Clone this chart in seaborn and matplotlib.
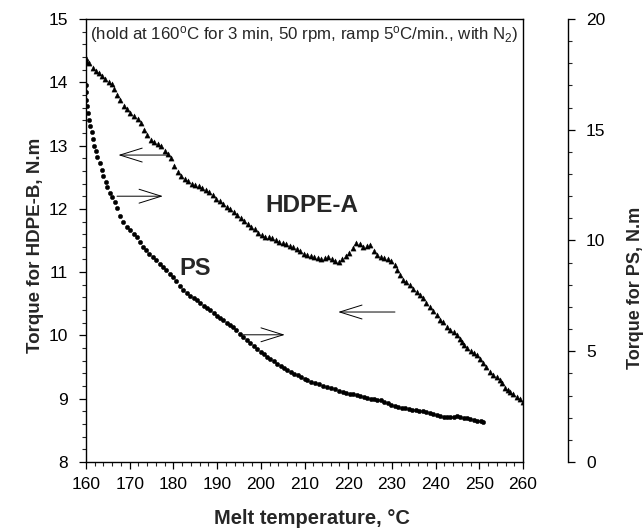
import matplotlib
matplotlib.use("Agg")
import matplotlib.pyplot as plt
from matplotlib.ticker import MultipleLocator
import seaborn as sns
import pandas as pd

# %%
# HDPE-A (triangles, left axis)
hdpe_temp = [160.0, 160.3, 160.8, 161.6, 162.3, 162.9, 163.6, 164.4, 165.2, 165.9,
             166.5, 167.2, 167.8, 168.6, 169.3, 170.1, 171.0, 171.8, 172.6, 173.3,
             174.0, 174.8, 175.6, 176.4, 177.2, 178.0, 178.7, 179.4, 180.2, 181.0,
             181.8, 182.6, 183.4, 184.2, 185.0, 185.8, 186.6, 187.4, 188.2, 189.0,
             189.8, 190.6, 191.4, 192.2, 193.0, 193.8, 194.6, 195.4, 196.2, 197.0,
             197.8, 198.6, 199.4, 200.2, 201.0, 201.8, 202.6, 203.4, 204.2, 205.0,
             205.8, 206.6, 207.4, 208.2, 209.0, 209.8, 210.6, 211.4, 212.2, 213.0,
             213.8, 214.6, 215.4, 216.2, 217.0, 217.8, 218.6, 219.4, 220.2, 221.0,
             221.8, 222.6, 223.4, 224.2, 225.0, 225.8, 226.6, 227.4, 228.2, 229.0,
             229.8, 230.6, 231.2, 231.9, 232.5, 233.3, 234.1, 234.9, 235.7, 236.4,
             237.1, 237.9, 238.7, 239.5, 240.3, 241.0, 241.7, 242.6, 243.4, 244.2,
             244.9, 245.5, 246.0, 246.6, 247.2, 248.0, 248.8, 249.5, 250.2, 250.8,
             251.6, 252.4, 253.2, 254.1, 254.7, 255.2, 255.9, 256.5, 257.0, 257.8,
             258.6, 259.3, 260.0]
hdpe_torque = [14.38, 14.32, 14.30, 14.23, 14.18, 14.14, 14.10, 14.05, 14.00, 13.98,
               13.90, 13.80, 13.72, 13.62, 13.57, 13.51, 13.47, 13.42, 13.36, 13.25,
               13.17, 13.09, 13.05, 13.02, 12.99, 12.92, 12.87, 12.80, 12.68, 12.58,
               12.52, 12.47, 12.44, 12.40, 12.38, 12.36, 12.33, 12.30, 12.27, 12.22,
               12.16, 12.12, 12.07, 12.03, 12.00, 11.95, 11.90, 11.86, 11.81, 11.76,
               11.72, 11.68, 11.62, 11.58, 11.56, 11.55, 11.54, 11.51, 11.48, 11.46,
               11.44, 11.42, 11.40, 11.37, 11.33, 11.29, 11.27, 11.25, 11.24, 11.23,
               11.21, 11.22, 11.24, 11.20, 11.17, 11.16, 11.20, 11.25, 11.31, 11.38,
               11.46, 11.44, 11.40, 11.41, 11.43, 11.33, 11.27, 11.24, 11.22, 11.20,
               11.17, 11.12, 11.03, 10.96, 10.88, 10.84, 10.80, 10.74, 10.69, 10.64,
               10.59, 10.52, 10.45, 10.38, 10.32, 10.24, 10.21, 10.13, 10.09, 10.05,
               10.01, 9.95, 9.90, 9.85, 9.80, 9.76, 9.72, 9.69, 9.62, 9.57,
               9.50, 9.42, 9.38, 9.34, 9.29, 9.25, 9.17, 9.13, 9.11, 9.07,
               9.03, 8.99, 8.95]

# PS (circles, right axis)
ps_temp = [159.9, 160.0, 160.1, 160.2, 160.5, 160.7, 160.9, 161.4, 161.6, 161.8,
           162.3, 162.6, 163.2, 163.6, 163.9, 164.5, 164.8, 165.4, 166.0, 166.6,
           167.2, 167.8, 168.5, 169.3, 170.1, 170.9, 171.7, 172.4, 173.0, 173.8,
           174.5, 175.3, 176.1, 176.9, 177.6, 178.4, 179.2, 179.9, 180.7, 181.5,
           182.2, 183.0, 183.8, 184.6, 185.4, 186.2, 187.0, 187.7, 188.4, 189.2,
           190.0, 190.7, 191.4, 192.2, 193.0, 193.6, 194.4, 195.2, 196.0, 196.8,
           197.6, 198.4, 199.2, 200.0, 200.7, 201.4, 202.2, 203.0, 203.8, 204.6,
           205.3, 206.0, 206.8, 207.6, 208.4, 209.2, 210.0, 210.6, 211.5, 212.4,
           213.3, 214.2, 215.1, 216.0, 216.9, 217.8, 218.8, 219.6, 220.4, 221.2,
           222.0, 222.8, 223.6, 224.4, 225.2, 226.0, 226.7, 227.5, 228.3, 229.1,
           229.9, 230.7, 231.4, 232.2, 233.0, 233.8, 234.6, 235.5, 236.3, 237.1,
           237.9, 238.7, 239.5, 240.3, 241.1, 241.9, 242.6, 243.4, 244.1, 244.9,
           245.6, 246.4, 247.2, 247.9, 248.7, 249.5, 250.3, 250.9]
ps_torque = [17.02, 16.70, 16.35, 16.05, 15.76, 15.45, 15.15, 14.90, 14.60, 14.25,
             14.05, 13.75, 13.50, 13.20, 12.90, 12.65, 12.42, 12.15, 11.95, 11.74,
             11.45, 11.11, 10.85, 10.62, 10.47, 10.30, 10.16, 9.92, 9.71, 9.55,
             9.40, 9.26, 9.10, 8.95, 8.80, 8.65, 8.50, 8.35, 8.15, 7.96,
             7.77, 7.63, 7.50, 7.40, 7.31, 7.18, 7.05, 6.95, 6.86, 6.72,
             6.58, 6.48, 6.41, 6.28, 6.17, 6.09, 5.95, 5.80, 5.65, 5.51,
             5.38, 5.25, 5.12, 4.98, 4.86, 4.74, 4.64, 4.54, 4.44, 4.34,
             4.24, 4.15, 4.07, 3.99, 3.91, 3.84, 3.76, 3.70, 3.63, 3.57,
             3.50, 3.44, 3.39, 3.34, 3.29, 3.22, 3.16, 3.12, 3.09, 3.05,
             3.02, 2.98, 2.93, 2.89, 2.85, 2.83, 2.81, 2.79, 2.72, 2.65,
             2.58, 2.52, 2.48, 2.45, 2.43, 2.40, 2.37, 2.35, 2.32, 2.28,
             2.24, 2.21, 2.17, 2.13, 2.09, 2.05, 2.03, 2.01, 2.05, 2.08,
             2.04, 2.00, 1.97, 1.94, 1.91, 1.87, 1.84, 1.81]

note = "(hold at 160$^\\mathregular{o}$C for 3 min, 50 rpm, ramp 5$^\\mathregular{o}$C/min., with N$_\\mathregular{2}$)"

# %%
sns.set_style("ticks")
plt.rcParams['font.family'] = ['Liberation Sans', 'DejaVu Sans']
plt.rcParams['mathtext.fontset'] = 'custom'
plt.rcParams['mathtext.rm'] = 'Liberation Sans'
plt.rcParams['mathtext.it'] = 'Liberation Sans:italic'
plt.rcParams['mathtext.bf'] = 'Liberation Sans:bold'

hdpe_df = pd.DataFrame({"temp": hdpe_temp, "torque": hdpe_torque})
ps_df = pd.DataFrame({"temp": ps_temp, "torque": ps_torque})

fig = plt.figure(figsize=(6.44, 5.30), dpi=100)
ax = fig.add_subplot(111)
fig.subplots_adjust(left=86/644, right=523/644, bottom=1-462/530, top=1-19/530)
ax2 = ax.twinx()

sns.scatterplot(x="temp", y="torque", data=hdpe_df, ax=ax, marker="^", s=14,
                color="black", edgecolor="black", linewidth=0.3, zorder=3)
sns.scatterplot(x="temp", y="torque", data=ps_df, ax=ax2, marker="o", s=10,
                color="black", edgecolor="black", linewidth=0.3, zorder=3)

ax.set_xlim(160, 260)
ax.set_ylim(8, 15)
ax2.set_ylim(0, 20)

ax.xaxis.set_major_locator(MultipleLocator(10))
ax.xaxis.set_minor_locator(MultipleLocator(2))
ax.yaxis.set_major_locator(MultipleLocator(1))
ax.yaxis.set_minor_locator(MultipleLocator(0.2))
ax2.yaxis.set_major_locator(MultipleLocator(5))
ax2.yaxis.set_minor_locator(MultipleLocator(1))

for sp in ax.spines.values():
    sp.set_visible(True)
    sp.set_linewidth(1.0)
    sp.set_color("black")
ax2.spines['right'].set_position(('axes', (568 - 86) / 437))
for name in ['top', 'left', 'bottom']:
    ax2.spines[name].set_visible(False)
ax2.spines['right'].set_linewidth(1.0)
ax2.spines['right'].set_color("black")

ax.tick_params(axis='both', which='major', direction='out', length=5, width=0.9,
               labelsize=12.5, colors='black', right=False, top=False)
ax.tick_params(axis='both', which='minor', direction='out', length=3, width=0.8,
               right=False, top=False)
ax.tick_params(axis='y', which='major', pad=8)
ax.tick_params(axis='x', which='major', pad=6)
ax2.tick_params(axis='y', which='major', direction='out', length=5, width=0.9,
                labelsize=12.5, colors='black', pad=8)
ax2.tick_params(axis='y', which='minor', direction='out', length=3, width=0.8)

ax.set_xlabel("Melt temperature, \u00b0C", fontsize=14.5, fontweight='bold')
ax.set_ylabel("Torque for HDPE-B, N.m", fontsize=13.5, fontweight='bold')
ax2.set_ylabel("Torque for PS, N.m", fontsize=13, fontweight='bold')
ax.xaxis.set_label_coords(0.517, -0.106)
ax.yaxis.set_label_coords(-0.096, 0.49)
ax2.yaxis.set_label_coords(1.238, 0.393)

ax.text(0.009, 0.966, note, transform=ax.transAxes, fontsize=12.2, ha='left', va='center')
ax.text(211.7, 12.06, "HDPE-A", fontsize=17.5, fontweight='bold', ha='center', va='center')
ax.text(184.9, 11.06, "PS", fontsize=17, fontweight='bold', ha='center', va='center')

arrow_kw = dict(arrowstyle="->,head_length=1.6,head_width=0.5", color="black", lw=0.7,
                shrinkA=0, shrinkB=0)
ax.annotate("", xy=(167.4, 12.85), xytext=(178.8, 12.85), arrowprops=arrow_kw)
ax.annotate("", xy=(177.6, 12.20), xytext=(167.1, 12.20), arrowprops=arrow_kw)
ax.annotate("", xy=(205.5, 10.01), xytext=(195.9, 10.01), arrowprops=arrow_kw)
ax.annotate("", xy=(217.7, 10.37), xytext=(230.7, 10.37), arrowprops=arrow_kw)

plt.savefig("out.png", dpi=100)
